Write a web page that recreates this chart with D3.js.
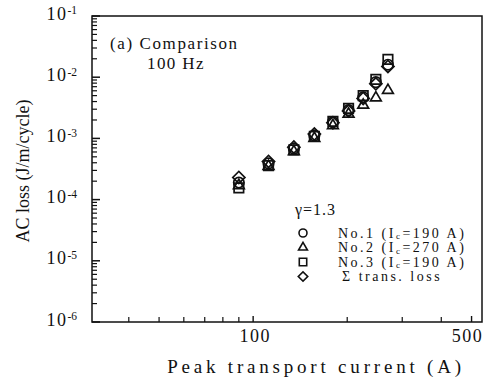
<!DOCTYPE html>
<html>
<head>
<meta charset="utf-8">
<script src="https://cdn.jsdelivr.net/npm/d3@7"></script>
<style>
  body { margin: 0; background: #fff; }
  svg { display: block; font-family: "Liberation Serif", "DejaVu Serif", serif; }
</style>
</head>
<body>
<svg width="492" height="385"></svg>
<script>
// peak transport current (A)
var current = [90, 112, 135, 157, 180, 202, 225, 247, 270];
// AC loss (J/m/cycle) per sample
var no1 = [1.9e-4, 3.9e-4, 6.8e-4, 1.12e-3, 1.85e-3, 2.9e-3, 4.7e-3, 8.3e-3, 1.6e-2];
var no2 = [1.7e-4, 3.5e-4, 6.1e-4, 1.0e-3, 1.62e-3, 2.5e-3, 3.5e-3, 4.6e-3, 6.1e-3];
var no3 = [1.55e-4, 3.6e-4, 6.5e-4, 1.08e-3, 1.9e-3, 3.1e-3, 5.0e-3, 9.2e-3, 1.95e-2];
var trans = [2.3e-4, 4.2e-4, 7.2e-4, 1.18e-3, 1.8e-3, 2.8e-3, 4.5e-3, 7.8e-3, 1.5e-2];

var yTicks = [1e-1, 1e-2, 1e-3, 1e-4, 1e-5, 1e-6];
var yTickExp = ["-1", "-2", "-3", "-4", "-5", "-6"];
var xLabels = [100, 500];
var xMinor = [40, 50, 60, 70, 80, 90, 200, 300, 400];

var svg = d3.select("svg"),
    margin = {top: 16, right: 10, bottom: 63, left: 92},
    width = +svg.attr("width") - margin.left - margin.right,
    height = +svg.attr("height") - margin.top - margin.bottom,
    g = svg.append("g").attr("transform", "translate(" + margin.left + "," + margin.top + ")");

var x = d3.scaleLog().domain([30.5, 540]).range([0, width]);
var y = d3.scaleLog().domain([1e-6, 1e-1]).range([height, 0]);

// frame
g.append("rect")
  .attr("width", width).attr("height", height)
  .attr("fill", "none").attr("stroke", "#111").attr("stroke-width", 1.5);

// y ticks (inside), majors + minors
var yMinor = [];
for (var e = -6; e < -1; e++) for (var m = 2; m < 10; m++) yMinor.push(m * Math.pow(10, e));

g.selectAll(".ymaj").data(yTicks).enter().append("line")
  .attr("x1", 0).attr("x2", 8)
  .attr("y1", function(d) { return y(d); }).attr("y2", function(d) { return y(d); })
  .attr("stroke", "#111").attr("stroke-width", 1.5);
g.selectAll(".ymin").data(yMinor).enter().append("line")
  .attr("x1", 0).attr("x2", 5)
  .attr("y1", function(d) { return y(d); }).attr("y2", function(d) { return y(d); })
  .attr("stroke", "#111").attr("stroke-width", 1.2);

var ylab = g.selectAll(".ylab").data(yTicks).enter().append("text")
  .attr("x", -15)
  .attr("y", function(d) { return y(d); })
  .attr("dy", "0.2em")
  .attr("text-anchor", "end")
  .attr("font-size", 18)
  .attr("fill", "#111");
ylab.append("tspan").attr("letter-spacing", 1.5).text("10");
ylab.append("tspan").attr("dy", "-0.45em").attr("font-size", 11.5)
  .text(function(d, i) { return yTickExp[i]; });

// x ticks (inside)
g.selectAll(".xmin").data(xMinor).enter().append("line")
  .attr("x1", function(d) { return x(d); }).attr("x2", function(d) { return x(d); })
  .attr("y1", height).attr("y2", height - 5)
  .attr("stroke", "#111").attr("stroke-width", 1.2);
g.selectAll(".xmaj").data(xLabels).enter().append("line")
  .attr("x1", function(d) { return x(d); }).attr("x2", function(d) { return x(d); })
  .attr("y1", height).attr("y2", height - 6)
  .attr("stroke", "#111").attr("stroke-width", 1.4);
g.selectAll(".xlab").data(xLabels).enter().append("text")
  .attr("x", function(d, i) { return x(d) + (i ? -4 : 2); })
  .attr("y", height + 20)
  .attr("text-anchor", "middle")
  .attr("font-size", 18)
  .attr("letter-spacing", 1.5)
  .attr("fill", "#111")
  .text(function(d) { return d; });

// axis titles
svg.append("text")
  .attr("x", 316).attr("y", 373)
  .attr("text-anchor", "middle")
  .attr("font-size", 19)
  .attr("letter-spacing", 3.8)
  .attr("fill", "#111")
  .text("Peak transport current (A)");
svg.append("text")
  .attr("transform", "translate(29," + (margin.top + height / 2 + 2) + ") rotate(-90)")
  .attr("text-anchor", "middle")
  .attr("font-size", 18)
  .attr("fill", "#111")
  .text("AC loss (J/m/cycle)");

// annotation
g.append("text").attr("x", 18).attr("y", 33).attr("font-size", 17)
  .attr("letter-spacing", 1.6).attr("fill", "#111")
  .text("(a) Comparison");
g.append("text").attr("x", 55).attr("y", 53).attr("font-size", 17)
  .attr("letter-spacing", 1.4).attr("fill", "#111")
  .text("100 Hz");

// markers
var sym = {
  circle: d3.symbol().type(d3.symbolCircle).size(85),
  triangle: d3.symbol().type(d3.symbolTriangle).size(50),
  square: d3.symbol().type(d3.symbolSquare).size(90),
  diamond: d3.symbol().type(d3.symbolSquare).size(74)
};
var series = [
  {name: "no1", vals: no1, shape: "circle", rot: 0},
  {name: "no2", vals: no2, shape: "triangle", rot: 0},
  {name: "no3", vals: no3, shape: "square", rot: 0},
  {name: "trans", vals: trans, shape: "diamond", rot: 45}
];

series.forEach(function(s) {
  g.append("g").attr("class", "chart")
    .selectAll("path")
    .data(s.vals)
    .enter().append("path")
      .attr("d", sym[s.shape])
      .attr("transform", function(d, i) {
        return "translate(" + x(current[i]) + "," + y(d) + ") rotate(" + s.rot + ")";
      })
      .attr("fill", "none")
      .attr("stroke", "#111")
      .attr("stroke-width", 1.7);
});

// legend
var legendItems = [
  {shape: "circle", rot: 0, label: "No.1 (I", sub: "c", rest: "=190 A)"},
  {shape: "triangle", rot: 0, label: "No.2 (I", sub: "c", rest: "=270 A)"},
  {shape: "square", rot: 0, label: "No.3 (I", sub: "c", rest: "=190 A)"},
  {shape: "diamond", rot: 45, label: "\u03A3 trans. loss", sub: "", rest: ""}
];

g.append("text").attr("x", 203).attr("y", 199).attr("font-size", 16)
  .attr("letter-spacing", 1).attr("fill", "#111")
  .text("\u03B3=1.3");

var legend = g.append("g").attr("class", "legend")
  .selectAll("g")
  .data(legendItems)
  .enter().append("g")
    .attr("transform", function(d, i) { return "translate(0," + (217 + i * 14.5) + ")"; });

var lsym = {
  circle: d3.symbol().type(d3.symbolCircle).size(50),
  triangle: d3.symbol().type(d3.symbolTriangle).size(34),
  square: d3.symbol().type(d3.symbolSquare).size(55),
  diamond: d3.symbol().type(d3.symbolSquare).size(45)
};
legend.append("path")
  .attr("d", function(d) { return lsym[d.shape](); })
  .attr("transform", function(d) { return "translate(211,0) rotate(" + d.rot + ")"; })
  .attr("fill", "none").attr("stroke", "#111").attr("stroke-width", 1.6);

var lt = legend.append("text")
  .attr("x", function(d) { return d.sub ? 246 : 250; })
  .attr("dy", "0.35em")
  .attr("font-size", 14)
  .attr("letter-spacing", 2.5)
  .attr("fill", "#111");
lt.append("tspan").text(function(d) { return d.label; });
lt.append("tspan").attr("dy", "0.15em").attr("font-size", 9).text(function(d) { return d.sub; });
lt.append("tspan").attr("dy", function(d) { return d.sub ? "-0.1em" : 0; })
  .text(function(d) { return d.rest; });
</script>
</body>
</html>
